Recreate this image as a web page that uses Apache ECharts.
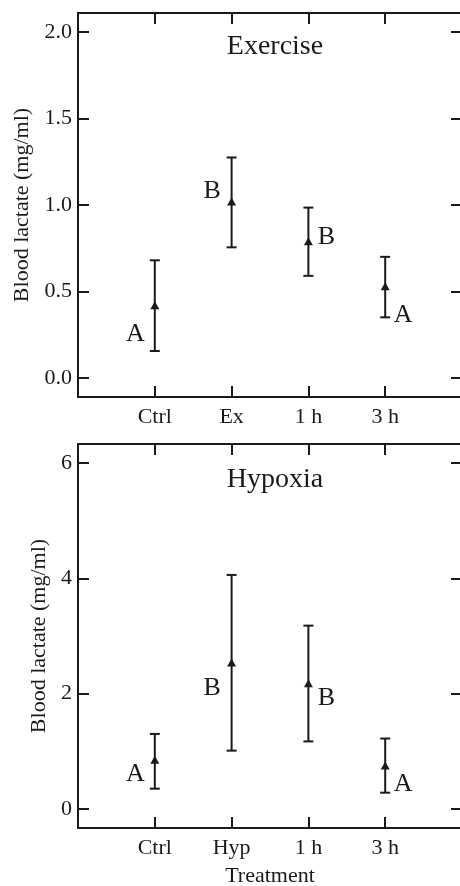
<!DOCTYPE html>
<html>
<head>
<meta charset="utf-8">
<script src="https://cdn.jsdelivr.net/npm/echarts@6/dist/echarts.min.js"></script>
<style>
html,body{margin:0;padding:0;background:#fff;}
#chart{width:460px;height:886px;}
</style>
</head>
<body>
<div id="chart"></div>
<script>
// ---- data ----
const exCategories = ['Ctrl', 'Ex', '1 h', '3 h'];
const exMean = [0.42, 1.02, 0.79, 0.53];
const exLow = [0.155, 0.755, 0.59, 0.35];
const exHigh = [0.68, 1.275, 0.985, 0.70];
const exLetters = ['A', 'B', 'B', 'A'];
const exLetterY = [0.25, 1.08, 0.81, 0.36];
const exLetterSide = ['left', 'left', 'right', 'right'];
const exTicks = [0, 0.5, 1, 1.5, 2];
const exTickLabels = ['0.0', '0.5', '1.0', '1.5', '2.0'];

const hyCategories = ['Ctrl', 'Hyp', '1 h', '3 h'];
const hyMean = [0.85, 2.54, 2.18, 0.75];
const hyLow = [0.35, 1.01, 1.17, 0.28];
const hyHigh = [1.30, 4.06, 3.18, 1.22];
const hyLetters = ['A', 'B', 'B', 'A'];
const hyLetterY = [0.59, 2.09, 1.92, 0.42];
const hyLetterSide = ['left', 'left', 'right', 'right'];
const hyTicks = [0, 2, 4, 6];
const hyTickLabels = ['0', '2', '4', '6'];

const panelTitles = ['Exercise', 'Hypoxia'];
const yName = 'Blood lactate (mg/ml)';
const xName = 'Treatment';

// ---- chart ----
const INK = '#1a1a1a';
const FONT = 'Liberation Serif';
const catPos = [1, 2, 3, 4];

function xAxes(gridIndex, cats, showName) {
  return [
    {
      type: 'value', gridIndex: gridIndex, min: 0, max: 5, position: 'bottom',
      axisLine: { show: true, onZero: false, lineStyle: { color: INK, width: 2 } },
      axisTick: { show: true, inside: true, length: 11, customValues: catPos, lineStyle: { color: INK, width: 2 } },
      axisLabel: { show: true, customValues: catPos, margin: 9, color: INK, fontFamily: FONT, fontSize: 22,
        formatter: v => cats[Math.round(v) - 1] || '' },
      splitLine: { show: false },
      name: showName ? xName : '', nameLocation: 'middle', nameGap: 37,
      nameTextStyle: { color: INK, fontFamily: FONT, fontSize: 22 }
    },
    {
      type: 'value', gridIndex: gridIndex, min: 0, max: 5, position: 'top',
      axisLine: { show: true, onZero: false, lineStyle: { color: INK, width: 2 } },
      axisTick: { show: true, inside: true, length: 11, customValues: catPos, lineStyle: { color: INK, width: 2 } },
      axisLabel: { show: false },
      splitLine: { show: false }
    }
  ];
}

function yAxes(gridIndex, ticks, labels, nameGap) {
  const span = ticks[ticks.length - 1] - ticks[0];
  const pad = span * 0.0555;
  const mn = ticks[0] - pad, mx = ticks[ticks.length - 1] + pad;
  return [
    {
      type: 'value', gridIndex: gridIndex, min: mn, max: mx, position: 'left',
      axisLine: { show: true, onZero: false, lineStyle: { color: INK, width: 2 } },
      axisTick: { show: true, inside: true, length: 11, customValues: ticks, lineStyle: { color: INK, width: 2 } },
      axisLabel: { show: true, customValues: ticks, margin: 6, color: INK, fontFamily: FONT, fontSize: 22,
        formatter: v => { const i = ticks.findIndex(t => Math.abs(t - v) < 1e-9); return i >= 0 ? labels[i] : ''; } },
      splitLine: { show: false },
      name: yName, nameLocation: 'middle', nameRotate: 90, nameGap: nameGap,
      nameTextStyle: { color: INK, fontFamily: FONT, fontSize: 22 }
    },
    {
      type: 'value', gridIndex: gridIndex, min: mn, max: mx, position: 'right',
      axisLine: { show: true, onZero: false, lineStyle: { color: INK, width: 2 } },
      axisTick: { show: true, inside: true, length: 11, customValues: ticks, lineStyle: { color: INK, width: 2 } },
      axisLabel: { show: false },
      splitLine: { show: false }
    }
  ];
}

function errorSeries(axisIdx, low, high) {
  return {
    type: 'custom', xAxisIndex: axisIdx, yAxisIndex: axisIdx,
    encode: { x: 0, y: [1, 2] },
    data: catPos.map((x, i) => [x, low[i], high[i]]),
    renderItem: function (params, api) {
      const x = api.value(0);
      const pL = api.coord([x, api.value(1)]);
      const pH = api.coord([x, api.value(2)]);
      const hw = 5;
      const st = { stroke: INK, lineWidth: 2 };
      return {
        type: 'group',
        children: [
          { type: 'line', shape: { x1: pL[0], y1: pL[1], x2: pH[0], y2: pH[1] }, style: st },
          { type: 'line', shape: { x1: pH[0] - hw, y1: pH[1], x2: pH[0] + hw, y2: pH[1] }, style: st },
          { type: 'line', shape: { x1: pL[0] - hw, y1: pL[1], x2: pL[0] + hw, y2: pL[1] }, style: st }
        ]
      };
    },
    z: 2
  };
}

function meanSeries(axisIdx, mean) {
  return {
    type: 'scatter', xAxisIndex: axisIdx, yAxisIndex: axisIdx,
    symbol: 'triangle', symbolSize: [9, 8],
    itemStyle: { color: INK, opacity: 1 },
    data: catPos.map((x, i) => [x, mean[i]]),
    z: 3
  };
}

function letterSeries(axisIdx, letters, ys, sides) {
  return {
    type: 'scatter', xAxisIndex: axisIdx, yAxisIndex: axisIdx,
    symbolSize: 1,
    itemStyle: { color: 'rgba(0,0,0,0)' },
    data: catPos.map((x, i) => ({ value: [x + (sides[i] === 'left' ? -0.245 : 0.24), ys[i]], name: letters[i] })),
    label: { show: true, position: [0, 0], align: 'center', verticalAlign: 'middle',
      formatter: p => p.name, color: INK, opacity: 1, textBorderWidth: 0,
      fontFamily: FONT, fontSize: 26 },
    z: 4
  };
}

const chart = echarts.init(document.getElementById('chart'), null, { renderer: 'canvas' });
chart.setOption({
  backgroundColor: '#fff',
  animation: false,
  title: [
    { text: panelTitles[0], left: 270, top: 28, textAlign: 'center',
      textStyle: { color: INK, fontFamily: FONT, fontSize: 28, fontWeight: 'normal' } },
    { text: panelTitles[1], left: 270, top: 461, textAlign: 'center',
      textStyle: { color: INK, fontFamily: FONT, fontSize: 28, fontWeight: 'normal' } }
  ],
  grid: [
    { left: 78, top: 13, width: 384, height: 384, containLabel: false, outerBoundsMode: 'none' },
    { left: 78, top: 444, width: 384, height: 384, containLabel: false, outerBoundsMode: 'none' }
  ],
  xAxis: [].concat(xAxes(0, exCategories, false), xAxes(1, hyCategories, true)),
  yAxis: [].concat(yAxes(0, exTicks, exTickLabels, 45), yAxes(1, hyTicks, hyTickLabels, 28)),
  series: [
    errorSeries(0, exLow, exHigh),
    meanSeries(0, exMean),
    letterSeries(0, exLetters, exLetterY, exLetterSide),
    errorSeries(2, hyLow, hyHigh),
    meanSeries(2, hyMean),
    letterSeries(2, hyLetters, hyLetterY, hyLetterSide)
  ]
});
</script>
</body>
</html>
